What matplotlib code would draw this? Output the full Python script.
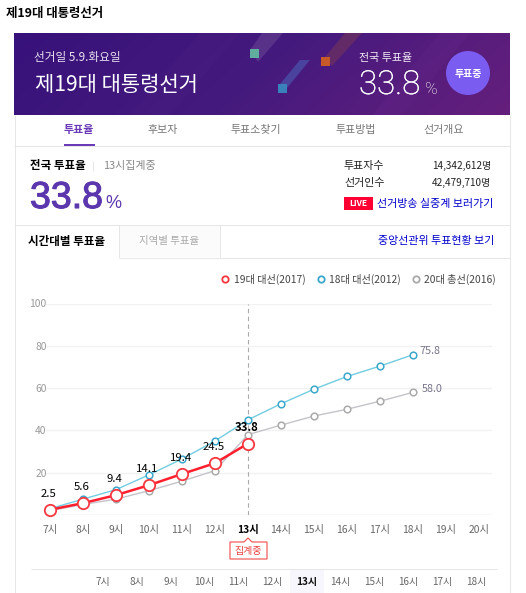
import numpy as np
import matplotlib
matplotlib.use("Agg")
import matplotlib.pyplot as plt
import matplotlib.patheffects as pe
from matplotlib.patches import Rectangle, Circle, Polygon
from matplotlib.colors import LinearSegmentedColormap

plt.rcParams['font.family'] = ['Noto Sans CJK KR', 'DejaVu Sans']

hours = [7, 8, 9, 10, 11, 12, 13, 14, 15, 16, 17, 18, 19, 20]
hour_labels = ['7시', '8시', '9시', '10시', '11시', '12시', '13시', '14시', '15시', '16시', '17시', '18시', '19시', '20시']
y_ticks = [0, 20, 40, 60, 80, 100]
y_tick_labels = ['', '20', '40', '60', '80', '100']
turnout_2017 = [2.5, 5.6, 9.4, 14.1, 19.4, 24.5, 33.8]
turnout_2012 = [3.0, 7.5, 12.0, 19.0, 26.5, 35.0, 45.0, 52.6, 59.5, 65.5, 70.4, 75.8]
turnout_2016 = [2.0, 5.0, 7.5, 11.5, 16.0, 21.0, 38.0, 42.5, 46.8, 50.0, 53.8, 58.0]
slider_labels = ['7시', '8시', '9시', '10시', '11시', '12시', '13시', '14시', '15시', '16시', '17시', '18시']
legend_labels = ['19대 대선(2017)', '18대 대선(2012)', '20대 총선(2016)']

W, H = 526, 593
RED, TEAL, GREY = '#ff1e2d', '#72cde0', '#c4c3ca'
fig = plt.figure(figsize=(W / 100, H / 100), dpi=100, facecolor='white')

# page chrome, in pixels
bg = fig.add_axes([0, 0, 1, 1])
bg.set_xlim(0, W); bg.set_ylim(H, 0); bg.axis('off')

def T(x, y, s, px=11, color='#333333', ha='left', weight='normal', z=6, family=None):
    return bg.text(x, y, s, fontsize=px * 0.72, color=color, ha=ha, va='center', fontweight=weight, zorder=z,
                   family=family)

def line(x0, x1, y0, y1, c='#e6e6e6', lw=1.0):
    bg.plot([x0, x1], [y0, y1], color=c, lw=lw * 0.72, solid_capstyle='butt', zorder=2)

T(6, 14, '제19대 대통령선거', 12.4, '#000000', weight='bold')

# banner
grad = np.linspace(0, 1, 256)[None, :] + np.linspace(0, 0.18, 40)[:, None]
cm = LinearSegmentedColormap.from_list('b', ['#37127a', '#451a7e', '#651f7c'])
bg.imshow(grad, extent=(14, 510, 115, 33), aspect='auto', cmap=cm, zorder=1, vmin=0, vmax=1.18)
bg.set_xlim(0, W); bg.set_ylim(H, 0)
for pts, c, a in [
    ([(262, 33), (283, 33), (258, 62), (250, 50)], '#8a6aa8', 0.30),
    ([(280, 84), (300, 60), (310, 60), (287, 88)], '#4a6cc0', 0.50),
    ([(325, 57), (345, 33), (362, 33), (332, 66)], '#a0503a', 0.30),
    ([(372, 115), (440, 33), (470, 33), (402, 115)], '#6a2a90', 0.22),
    ([(130, 115), (200, 33), (240, 33), (170, 115)], '#4e1f84', 0.30),
]:
    bg.add_patch(Polygon(pts, closed=True, fc=c, ec='none', alpha=a, zorder=1.5))
for x, y, c in [(250, 49, '#5fae9e'), (278, 84, '#3a80ba'), (321, 57, '#c65a28')]:
    bg.add_patch(Rectangle((x, y), 9, 9, fc=c, ec='none', zorder=3))
T(34, 58, '선거일 5.9.화요일', 11.7, '#e8e0f2')
T(35, 85, '제19대 대통령선거', 21, '#ffffff', weight='light')
T(359, 58, '전국 투표율', 11, '#f0e8f6')
T(359, 85, '33.8', 33, '#ffffff', family='Roboto', weight='light').set_path_effects(
    [pe.withStroke(linewidth=0.25, foreground='#ffffff')])
T(425, 89, '%', 17, '#ffffff', weight='light', family='Roboto')
bg.add_patch(Circle((468, 73), 22, fc='#7a5cf0', ec='none', zorder=3))
T(468, 74, '투표중', 10, '#ffffff', ha='center', weight='bold')

# card
line(14.5, 14.5, 115, 593); line(510, 510, 115, 593)
line(14, 510, 145.5, 145.5)
line(64, 95, 145, 145, '#6b3bb8', 2)
for x, s in [(163, '후보자'), (256, '투표소찾기'), (356, '투표방법'), (444, '선거개요')]:
    T(x, 130, s, 11, '#777777', ha='center')
T(79, 130, '투표율', 11, '#6b3bb8', ha='center', weight='bold')

T(30, 166, '전국 투표율', 11.5, '#000000', weight='bold')
line(93, 93, 161, 171)
T(103, 166, '13시집계중', 11, '#888888')
num = T(30, 198, '33.8', 37.5, '#5b36ad', family='Liberation Sans')
num.set_path_effects([pe.withStroke(linewidth=0.8, foreground='#5b36ad')])
T(105, 204, '%', 18, '#5b36ad', family='Liberation Sans')
T(344, 166, '투표자수', 11, '#222222'); T(491, 166, '14,342,612명', 10, '#222222', ha='right')
T(344, 183, '선거인수', 11, '#222222'); T(491, 183, '42,479,710명', 10, '#222222', ha='right')
bg.add_patch(Rectangle((344, 197), 29, 13, fc='#ff0033', ec='none', zorder=3))
T(358.5, 203.5, 'LIVE', 8.5, '#ffffff', ha='center', weight='bold')
T(377, 204, '선거방송 실중계 보러가기', 11, '#0000cc')

# tabs
line(14, 510, 225, 225)
bg.add_patch(Rectangle((119, 225), 101, 32, fc='#fbfbfb', ec='none', zorder=1))
line(119, 119, 225, 258); line(220, 220, 225, 257)
line(119, 510, 257.5, 257.5)
T(28, 241, '시간대별 투표율', 11.6, '#000000', weight='bold')
T(139, 241, '지역별 투표율', 10.5, '#aaaaaa')
T(494, 241, '중앙선관위 투표현황 보기', 11, '#0000cc', ha='right')

# bottom slider
line(31, 497, 569, 569)
bg.add_patch(Rectangle((290, 570), 34, 23, fc='#f8f6fd', ec='none', zorder=1))
for i, s in enumerate(slider_labels):
    on = s == '13시'
    T(103 + i * 33.9, 581.5, s, 10, '#111111' if on else '#666666', ha='center', weight='bold' if on else 'normal')

# chart: data x 7 at px 50, spacing 33; y 0 at px 515, 100 at px 303.5
L, R, TOP, BOT = 46.0, 492.0, 303.5, 515.0
ax = fig.add_axes([L / W, 1 - BOT / H, (R - L) / W, (BOT - TOP) / H], facecolor='none')
ax.set_xlim(7 - (50 - L) / 33, 7 + (R - 50) / 33)
ax.set_ylim(0, 100)
for s in ax.spines.values():
    s.set_visible(False)
ax.set_yticks(y_ticks)
ax.set_yticklabels(y_tick_labels, fontsize=7.4, color='#999999')
ax.set_xticks(hours)
ax.set_xticklabels(hour_labels, fontsize=7.4, color='#666666')
ax.tick_params(axis='y', length=0, pad=-0.5)
ax.tick_params(axis='x', length=0, pad=7.2)
for lab, h in zip(ax.get_xticklabels(), hours):
    if h == 13:
        lab.set_color('#000000'); lab.set_fontweight('bold')
for v in y_ticks:
    ax.axhline(v, color='#dedede' if v == 0 else '#f2f2f2', lw=1, zorder=1)
ax.axvline(13, color='#aaaaaa', lw=0.8, ls=(0, (4, 3)), zorder=1.5)

ax.plot(hours[:12], turnout_2016, color=GREY, lw=1, marker='o', ms=4.8, mfc='white', mec='#aaaaaa', mew=1.1, zorder=3, clip_on=False)
ax.plot(hours[:12], turnout_2012, color=TEAL, lw=1, marker='o', ms=4.8, mfc='white', mec='#3ba7cc', mew=1.1, zorder=4, clip_on=False)
ax.plot(hours[:7], turnout_2017, color=RED, lw=1.8, marker='o', ms=8.2, mfc='white', mec='#f8363f', mew=1.3, zorder=5, clip_on=False)
for h, v in zip(hours, turnout_2017):
    ax.annotate(f'{v:.1f}', (h, v), xytext=(-1, 11.5), textcoords='offset points', ha='center', va='center',
                fontsize=8.2, color='#000000', fontweight='bold' if h == 13 else 'normal', zorder=7)
ax.annotate(f'{turnout_2012[-1]:.1f}', (hours[11], turnout_2012[-1]), xytext=(4.5, 2.5), textcoords='offset points',
            va='center', fontsize=7.8, color='#77768c', zorder=7)
ax.annotate(f'{turnout_2016[-1]:.1f}', (hours[11], turnout_2016[-1]), xytext=(6, 2.5), textcoords='offset points',
            va='center', fontsize=7.8, color='#77768c', zorder=7)

# legend
for mx, tx, lab, mec in [(225, 234, legend_labels[0], '#f8363f'), (321, 329, legend_labels[1], '#3ba7cc'), (416, 424, legend_labels[2], '#aaaaaa')]:
    bg.plot([mx], [279], 'o', ms=4.6, mfc='white', mec=mec, mew=1.3, zorder=5)
    T(tx, 279, lab, 10.2, '#444444')

# 집계중 callout
bg.add_patch(Polygon([(230, 542), (244, 542), (248, 538), (252, 542), (267, 542), (267, 559), (230, 559)],
                     closed=True, fc='white', ec='#f04a4a', lw=0.8, zorder=5))
T(248.5, 551, '집계중', 10, '#e8403f', ha='center')

fig.savefig('out.png', dpi=100)
